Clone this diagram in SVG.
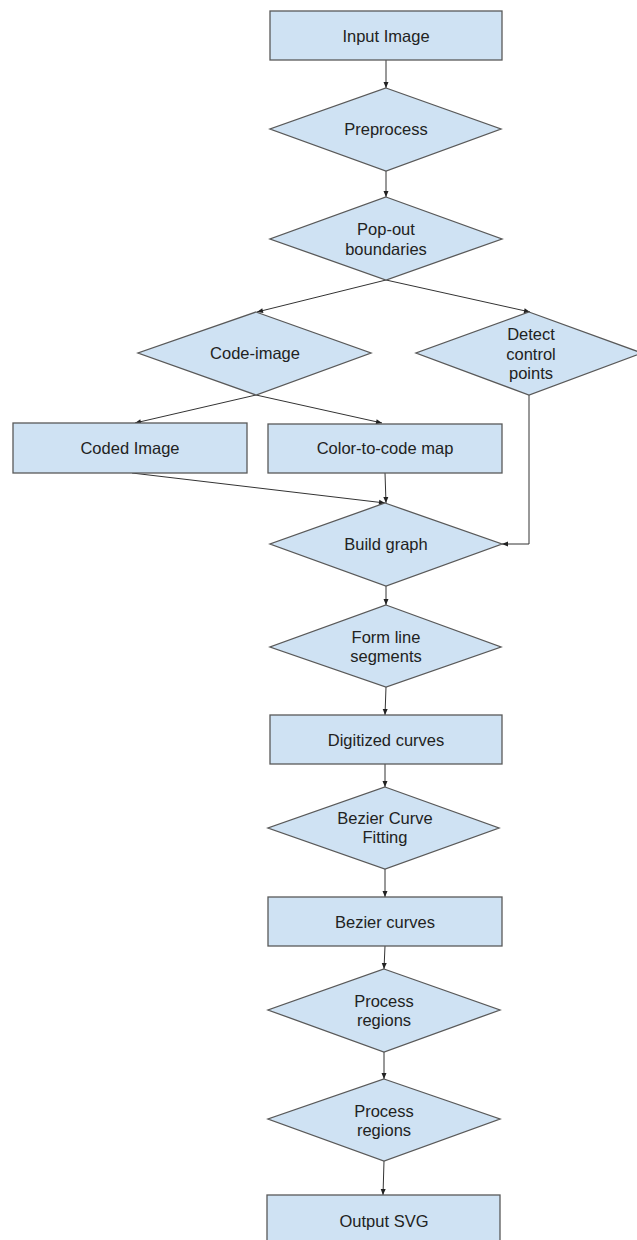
<svg xmlns="http://www.w3.org/2000/svg" width="637" height="1240" viewBox="0 0 637 1240">
<defs>
<style>
.n{fill:#cfe2f3;stroke:#595959;stroke-width:1.3}
.t{font-family:"Liberation Sans",Arial,sans-serif;font-size:16.5px;fill:#222;text-anchor:middle}
.c{fill:none;stroke:#333;stroke-width:1}
</style>
<marker id="a" markerUnits="userSpaceOnUse" markerWidth="8" markerHeight="8" viewBox="0 0 8 8" refX="7" refY="4" orient="auto">
<path d="M1,1.5 L7,4 L1,6.5 Z" fill="#222"/>
</marker>
</defs>
<rect width="637" height="1240" fill="#fff"/>
<g id="connectors">
<line class="c" x1="386" y1="60" x2="386" y2="88" marker-end="url(#a)"/>
<line class="c" x1="386" y1="171" x2="386" y2="197" marker-end="url(#a)"/>
<line class="c" x1="386" y1="280" x2="257" y2="312" marker-end="url(#a)"/>
<line class="c" x1="386" y1="280" x2="530" y2="312" marker-end="url(#a)"/>
<line class="c" x1="256" y1="395" x2="135" y2="423" marker-end="url(#a)"/>
<line class="c" x1="256" y1="395" x2="382" y2="423" marker-end="url(#a)"/>
<line class="c" x1="132" y1="473" x2="385" y2="503" marker-end="url(#a)"/>
<line class="c" x1="385" y1="473" x2="386" y2="503" marker-end="url(#a)"/>
<polyline class="c" points="529,395 529,544 502,544" marker-end="url(#a)"/>
<line class="c" x1="386" y1="586" x2="386" y2="605" marker-end="url(#a)"/>
<line class="c" x1="386" y1="687" x2="385" y2="715" marker-end="url(#a)"/>
<line class="c" x1="385" y1="764" x2="385" y2="787" marker-end="url(#a)"/>
<line class="c" x1="385" y1="869" x2="385" y2="897" marker-end="url(#a)"/>
<line class="c" x1="385" y1="946" x2="384" y2="969" marker-end="url(#a)"/>
<line class="c" x1="384" y1="1052" x2="384" y2="1079" marker-end="url(#a)"/>
<line class="c" x1="384" y1="1161" x2="383" y2="1195" marker-end="url(#a)"/>
</g>
<g id="input-image">
<rect class="n" x="270" y="11" width="232" height="49"/>
<text class="t" x="386" y="42">Input Image</text>
</g>
<g id="preprocess">
<polygon class="n" points="386,88 501,129 386,171 270,129"/>
<text class="t" x="386" y="135">Preprocess</text>
</g>
<g id="pop-out">
<polygon class="n" points="386,197 502,239 386,280 270,239"/>
<text class="t" x="386" y="235">Pop-out</text>
<text class="t" x="386" y="255">boundaries</text>
</g>
<g id="code-image">
<polygon class="n" points="256,312 371,353 256,395 138,353"/>
<text class="t" x="255" y="359">Code-image</text>
</g>
<g id="detect">
<polygon class="n" points="529,312 642,353 529,395 416,353"/>
<text class="t" x="531" y="340">Detect</text>
<text class="t" x="531" y="360">control</text>
<text class="t" x="531" y="379">points</text>
</g>
<g id="coded-image">
<rect class="n" x="13" y="423" width="234" height="50"/>
<text class="t" x="130" y="454">Coded Image</text>
</g>
<g id="color-to-code">
<rect class="n" x="268" y="424" width="234" height="49"/>
<text class="t" x="385" y="454">Color-to-code map</text>
</g>
<g id="build-graph">
<polygon class="n" points="385,503 502,544 386,586 270,544"/>
<text class="t" x="386" y="550">Build graph</text>
</g>
<g id="form-line">
<polygon class="n" points="386,605 501,647 386,687 270,647"/>
<text class="t" x="386" y="643">Form line</text>
<text class="t" x="386" y="662">segments</text>
</g>
<g id="digitized">
<rect class="n" x="270" y="715" width="232" height="49"/>
<text class="t" x="386" y="746">Digitized curves</text>
</g>
<g id="bezier-fitting">
<polygon class="n" points="385,787 499,828 385,869 268,828"/>
<text class="t" x="385" y="824">Bezier Curve</text>
<text class="t" x="385" y="843">Fitting</text>
</g>
<g id="bezier-curves">
<rect class="n" x="268" y="897" width="234" height="49"/>
<text class="t" x="385" y="928">Bezier curves</text>
</g>
<g id="process-1">
<polygon class="n" points="384,969 500,1010 384,1052 268,1010"/>
<text class="t" x="384" y="1007">Process</text>
<text class="t" x="384" y="1026">regions</text>
</g>
<g id="process-2">
<polygon class="n" points="384,1079 500,1119 384,1161 268,1119"/>
<text class="t" x="384" y="1117">Process</text>
<text class="t" x="384" y="1136">regions</text>
</g>
<g id="output-svg">
<rect class="n" x="267" y="1195" width="233" height="50"/>
<text class="t" x="384" y="1227">Output SVG</text>
</g>
</svg>
